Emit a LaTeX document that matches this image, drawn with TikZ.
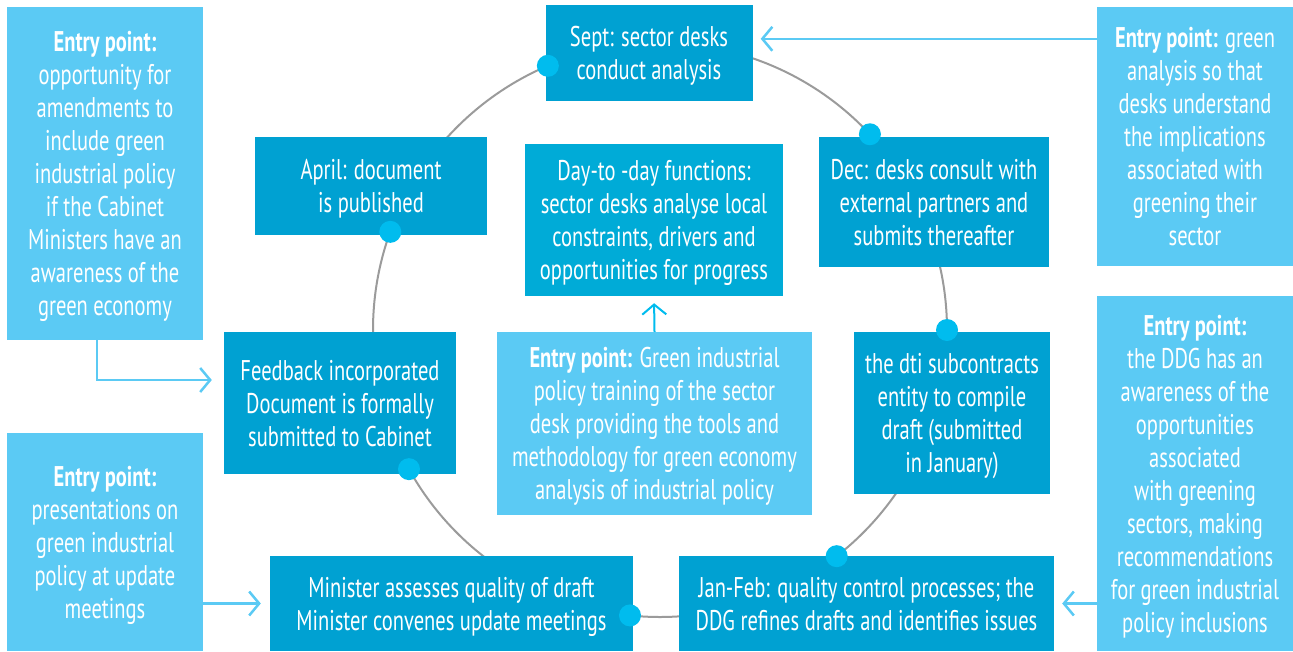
\documentclass[tikz,border=0pt]{standalone}
\usepackage{fontspec}
\setmainfont{PT Sans}[FakeStretch=0.72]
\usetikzlibrary{calc,positioning,arrows.meta}
\definecolor{deskblue}{HTML}{00A1D2}
\definecolor{dayblue}{HTML}{00ABD7}
\definecolor{entryblue}{HTML}{5BCAF4}
\definecolor{dotblue}{HTML}{00BCEE}
\definecolor{ringgray}{HTML}{9B9B9B}

\begin{document}
\begin{tikzpicture}[x=1pt,y=-1pt,
  stage/.style={fill=deskblue,text=white,align=center,inner sep=0pt,text depth=0pt,font=\fontsize{28.5}{33}\selectfont},
  entry/.style={stage,fill=entryblue},
  ele/.style={fill=dotblue,circle,minimum size=22pt,inner sep=0pt},
  link/.style={draw=entryblue,line width=2.5pt,-{Straight Barb[length=10pt,width=24pt]}}]
  \useasboundingbox (0,0) rectangle (1293,651);
  \coordinate (ctr) at (660,330);
  \draw[ringgray,line width=2pt] (ctr) circle[radius=287pt];

  % the yearly cycle
  \node[stage,minimum width=207,minimum height=96] (sept) at (649,53) {Sept: sector desks\\conduct analysis};
  \node[stage,minimum width=230,minimum height=130] (dec) at (934,202) {Dec: desks consult with\\external partners and\\submits thereafter};
  \node[stage,minimum width=196,minimum height=162] (dti) at (952,413) {the dti subcontracts\\entity to compile\\draft (submitted\\in January)};
  \node[stage,minimum width=375,minimum height=95] (jan) at (866.5,603.5) {Jan-Feb: quality control processes; the\\DDG refines drafts and identifies issues};
  \node[stage,minimum width=363,minimum height=95] (mini) at (451.5,603.5) {Minister assesses quality of draft\\Minister convenes update meetings};
  \node[stage,minimum width=232,minimum height=142] (feed) at (340,403) {Feedback incorporated\\Document is formally\\submitted to Cabinet};
  \node[stage,minimum width=232,minimum height=98] (april) at (371,186) {April: document\\is published};
  \node[stage,fill=dayblue,minimum width=258,minimum height=152] (day) at (654,220) {Day-to -day functions:\\sector desks analyse local\\constraints, drivers and\\opportunities for progress};

  % entry points
  \node[entry,minimum width=315,minimum height=183] (ectr) at (654.5,423.5) {\textbf{Entry point:} Green industrial\\policy training of the sector\\desk providing the tools and\\methodology for green economy\\analysis of industrial policy};
  \node[entry,minimum width=196,minimum height=333] (elt) at (105,173.5) {\textbf{Entry point:}\\opportunity for\\amendments to\\include green\\industrial policy\\if the Cabinet\\Ministers have an\\awareness of the\\green economy};
  \node[entry,minimum width=196,minimum height=218] (elb) at (105,542) {\textbf{Entry point:}\\presentations on\\green industrial\\policy at update\\meetings};
  \node[entry,minimum width=196,minimum height=259] (ert) at (1195,136.5) {\textbf{Entry point:} green\\analysis so that\\desks understand\\the implications\\associated with\\greening their\\sector};
  \node[entry,minimum width=196,minimum height=355] (erb) at (1195,473.5) {\textbf{Entry point:}\\the DDG has an\\awareness of the\\opportunities\\associated\\with greening\\sectors, making\\recommendations\\for green industrial\\policy inclusions};

  % dots on the ring
  \node[ele] (d1) at ($(ctr)+(-113:287)$) {};
  \node[ele] (d2) at ($(ctr)+(-43:287)$) {};
  \node[ele] (d3) at ($(ctr)+(0:287)$) {};
  \node[ele] (d4) at ($(ctr)+(52:287)$) {};
  \node[ele] (d5) at ($(ctr)+(96:287)$) {};
  \node[ele] (d6) at ($(ctr)+(151:287)$) {};
  \node[ele] (d7) at ($(ctr)+(-160:287)$) {};

  \draw[link,shorten >=8pt] ([yshift=-32pt]ert.north west) -- ([yshift=-32pt]ert.north west -| sept.east);
  \draw[link,shorten >=12pt] ([xshift=-8pt]elt.south) |- ([yshift=23pt]feed.west);
  \draw[link,shorten >=9pt] (elb.east |- mini.west) -- (mini.west);
  \draw[link,shorten >=8pt] (erb.west |- jan.east) -- (jan.east);
  \draw[link,draw=dotblue,line width=2pt,shorten >=7pt] (ectr.north) -- (day.south);
\end{tikzpicture}
\end{document}
